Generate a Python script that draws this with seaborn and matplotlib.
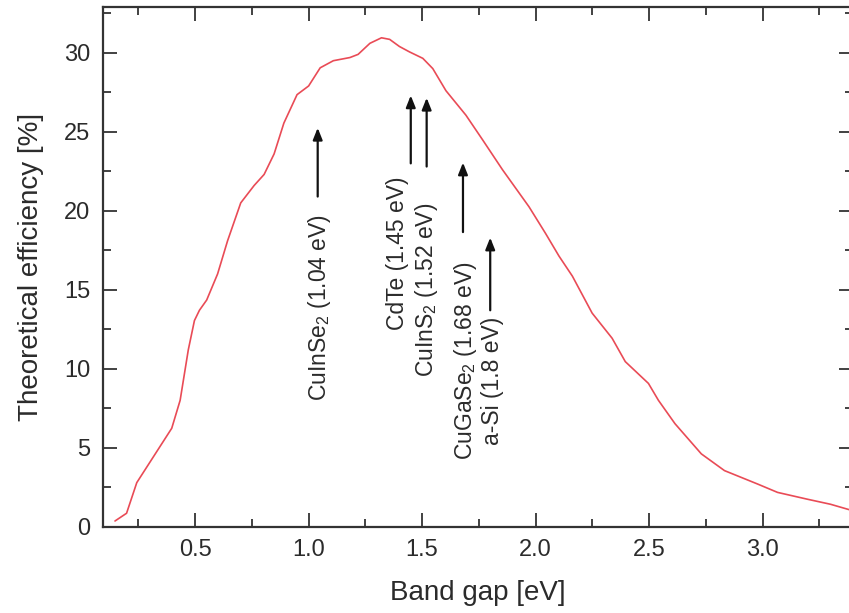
import matplotlib
matplotlib.use("Agg")
import matplotlib.pyplot as plt
from matplotlib.ticker import MultipleLocator
import numpy as np
import pandas as pd
import seaborn as sns

# Theoretical single-junction efficiency versus band gap
band_gap_ev = [0.147, 0.198, 0.243, 0.397, 0.434, 0.470, 0.497, 0.519, 0.551,
               0.599, 0.643, 0.701, 0.760, 0.804, 0.848, 0.891, 0.949, 1.000,
               1.051, 1.109, 1.182, 1.218, 1.270, 1.321, 1.357, 1.400, 1.444,
               1.503, 1.547, 1.605, 1.693, 1.766, 1.854, 1.971, 2.044, 2.103,
               2.162, 2.249, 2.337, 2.395, 2.497, 2.541, 2.614, 2.730, 2.832,
               2.978, 3.066, 3.197, 3.299, 3.400]
efficiency_pct = [0.36, 0.85, 2.79, 6.23, 8.00, 11.2, 13.05, 13.7, 14.35,
                  16.0, 18.1, 20.5, 21.6, 22.3, 23.6, 25.55, 27.35, 27.9,
                  29.05, 29.5, 29.7, 29.9, 30.6, 30.95, 30.85, 30.4, 30.06,
                  29.65, 29.0, 27.6, 26.05, 24.5, 22.6, 20.25, 18.56, 17.13,
                  15.86, 13.52, 11.93, 10.45, 9.07, 8.0, 6.52, 4.61, 3.55,
                  2.7, 2.17, 1.74, 1.42, 1.0]

# Absorber materials and their band gaps
materials = [r"CuInSe$_2$", "CdTe", r"CuInS$_2$", r"CuGaSe$_2$", "a-Si"]
material_gaps = [1.04, 1.45, 1.52, 1.68, 1.8]
arrow_tip = [25.25, 27.3, 27.15, 23.05, 18.3]
arrow_tail = [20.9, 23.0, 22.8, 18.65, 13.7]
label_x = [1.05, 1.39, 1.52, 1.69, 1.81]
label_top = [19.8, 22.15, 20.5, 16.8, 13.3]

x_ticks = [0.5, 1.0, 1.5, 2.0, 2.5, 3.0]
y_ticks = [0, 5, 10, 15, 20, 25, 30]

sns.set_theme(style="ticks")
plt.rcParams["font.family"] = ["Liberation Sans", "DejaVu Sans"]
plt.rcParams["mathtext.default"] = "regular"

df = pd.DataFrame({"gap": band_gap_ev, "eff": efficiency_pct})

fig = plt.figure(figsize=(8.49, 6.13), dpi=100)
ax = fig.add_axes([0.121, 0.1408, 0.8842, 0.8478])

sns.lineplot(data=df, x="gap", y="eff", ax=ax, color="#e94b56",
             linewidth=1.2, sort=False, estimator=None)

text_color = "#2b2b2b"
for name, gap, tip, tail, lx, lt in zip(materials, material_gaps, arrow_tip,
                                        arrow_tail, label_x, label_top):
    ax.annotate("", xy=(gap, tip), xytext=(gap, tail),
                arrowprops=dict(arrowstyle="-|>,head_length=0.5,head_width=0.2",
                                color="#111111", lw=1.6, mutation_scale=14,
                                shrinkA=0, shrinkB=0))
    ax.text(lx, lt, f"{name} ({gap:g} eV)", rotation=90, ha="center",
            va="top", fontsize=16.5, color=text_color)

ax.set_xlim(0.093, 3.4)
ax.set_ylim(0, 32.9)
ax.set_xticks(x_ticks)
ax.set_xticklabels([f"{v:.1f}" for v in x_ticks])
ax.set_yticks(y_ticks)
ax.xaxis.set_minor_locator(MultipleLocator(0.25))
ax.yaxis.set_minor_locator(MultipleLocator(2.5))

ax.tick_params(which="both", direction="in", top=True, right=True,
               color="#333333", width=1.3, labelsize=17, labelcolor=text_color)
ax.tick_params(which="major", length=10)
ax.tick_params(which="minor", length=5.5)
ax.tick_params(axis="y", pad=9)
ax.tick_params(axis="x", pad=9)

for side in ax.spines.values():
    side.set_linewidth(1.6)
    side.set_color("#333333")

ax.set_xlabel("Band gap [eV]", fontsize=20, color=text_color)
ax.set_ylabel("Theoretical efficiency [%]", fontsize=20, color=text_color)
ax.xaxis.label.set_va("center")
ax.yaxis.label.set_va("center")
ax.xaxis.set_label_coords(0.5, -0.1276)
ax.yaxis.set_label_coords(-0.0955, 0.5)

fig.savefig("out.png", dpi=100)
